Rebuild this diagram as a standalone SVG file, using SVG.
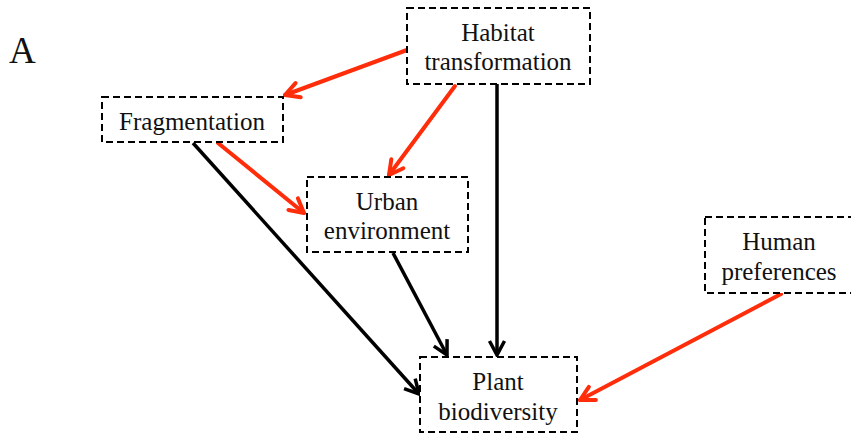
<svg xmlns="http://www.w3.org/2000/svg" width="851" height="438" viewBox="0 0 851 438">
  <style>
    .box { fill: #ffffff; stroke: #000000; stroke-width: 2; stroke-dasharray: 7 4; }
    .lbl { font-family: "Liberation Serif", "Times New Roman", serif; font-size: 25px; fill: #111111; text-anchor: middle; }
    .red { stroke: #ff2d0a; stroke-width: 4; fill: none; stroke-linecap: round; marker-end: url(#headRed); }
    .blk { stroke: #000000; stroke-width: 3.5; fill: none; marker-end: url(#headBlk); }
  </style>
  <defs>
    <marker id="headRed" viewBox="-18 -10 22 20" refX="0" refY="0" markerWidth="22" markerHeight="20" markerUnits="userSpaceOnUse" orient="auto">
      <path d="M-14,-7.5 L0,0 L-14,7.5" fill="none" stroke="#ff2d0a" stroke-width="4" stroke-linecap="round" stroke-linejoin="round"/>
    </marker>
    <marker id="headBlk" viewBox="-18 -10 22 20" refX="0" refY="0" markerWidth="22" markerHeight="20" markerUnits="userSpaceOnUse" orient="auto">
      <path d="M-14,-7.5 L0,0 L-14,7.5" fill="none" stroke="#000000" stroke-width="3.5" stroke-linejoin="miter"/>
    </marker>
  </defs>

  <rect width="851" height="438" fill="#ffffff"/>

  <text x="9" y="63" font-family="'Liberation Serif', 'Times New Roman', serif" font-size="37" fill="#111111">A</text>

  <g id="connectors">
    <line class="red" x1="407" y1="50" x2="285" y2="95"/>
    <line class="red" x1="455" y1="86" x2="389" y2="175"/>
    <line class="blk" x1="497" y1="84" x2="497" y2="355"/>
    <line class="red" x1="218" y1="143" x2="304" y2="213"/>
    <line class="blk" x1="193" y1="143" x2="419" y2="394"/>
    <line class="blk" x1="393" y1="253" x2="447" y2="355"/>
    <line class="red" x1="781" y1="294" x2="580" y2="400"/>
  </g>

  <g id="habitat">
    <rect class="box" x="407" y="8" width="183" height="76"/>
    <text class="lbl" x="498" y="41">Habitat</text>
    <text class="lbl" x="498" y="70">transformation</text>
  </g>

  <g id="fragmentation">
    <rect class="box" x="102" y="97" width="181" height="45"/>
    <text class="lbl" x="192" y="130">Fragmentation</text>
  </g>

  <g id="urban">
    <rect class="box" x="307" y="177" width="161" height="75"/>
    <text class="lbl" x="387" y="210">Urban</text>
    <text class="lbl" x="387" y="239">environment</text>
  </g>

  <g id="human">
    <rect class="box" x="705" y="217" width="148" height="76"/>
    <text class="lbl" x="779" y="250">Human</text>
    <text class="lbl" x="779" y="280">preferences</text>
  </g>

  <g id="plant">
    <rect class="box" x="420" y="357" width="157" height="75"/>
    <text class="lbl" x="498" y="390">Plant</text>
    <text class="lbl" x="498" y="420">biodiversity</text>
  </g>
</svg>
